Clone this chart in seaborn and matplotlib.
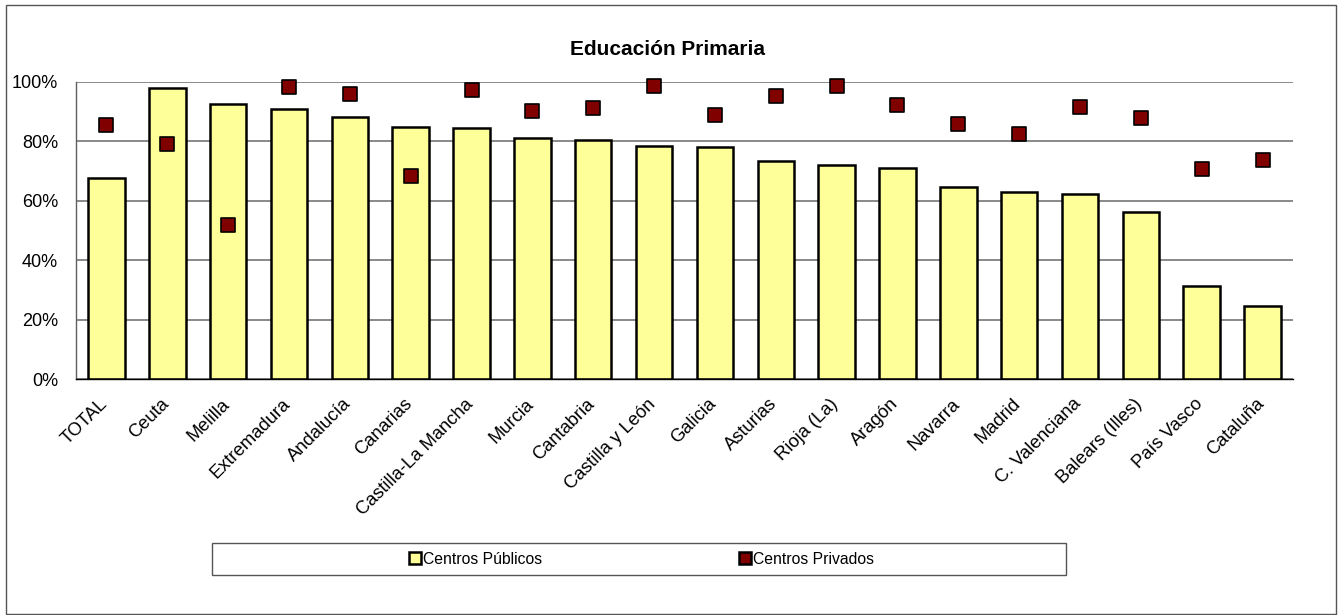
import matplotlib
matplotlib.use("Agg")
import matplotlib.pyplot as plt
import seaborn as sns
import pandas as pd
import numpy as np
from matplotlib.patches import Patch, Rectangle
from matplotlib.ticker import PercentFormatter, FixedLocator
from matplotlib.transforms import ScaledTranslation

regions = ["TOTAL", "Ceuta", "Melilla", "Extremadura", "Andalucía", "Canarias",
           "Castilla-La Mancha", "Murcia", "Cantabria", "Castilla y León", "Galicia",
           "Asturias", "Rioja (La)", "Aragón", "Navarra", "Madrid", "C. Valenciana",
           "Balears (Illes)", "País Vasco", "Cataluña"]
publicos = [67.6, 98.0, 92.5, 90.9, 88.3, 84.9, 84.5, 81.1, 80.6, 78.6, 78.0,
            73.5, 72.2, 71.0, 64.5, 62.8, 62.3, 56.2, 31.2, 24.5]
privados = [85.4, 79.2, 51.8, 98.2, 96.1, 68.2, 97.2, 90.3, 91.2, 98.8, 89.0,
            95.4, 98.5, 92.3, 86.0, 82.6, 91.6, 87.9, 70.8, 73.8]
series_labels = ["Centros Públicos", "Centros Privados"]
title = "Educación Primaria"

sns.set_theme(style="white")
plt.rcParams["font.family"] = ["Liberation Sans", "DejaVu Sans"]
plt.rcParams["text.color"] = "black"
plt.rcParams["xtick.color"] = "black"
plt.rcParams["ytick.color"] = "black"
plt.rcParams["xtick.labelcolor"] = "black"
plt.rcParams["ytick.labelcolor"] = "black"

W, H = 1338, 615
fig = plt.figure(figsize=(W / 100, H / 100), dpi=100)
fig.patch.set_facecolor("white")
ax = fig.add_axes([76 / W, 1 - 379 / H, (1293 - 76) / W, (379 - 82) / H])

df = pd.DataFrame({"Región": regions, "pub": publicos, "priv": privados})

sns.barplot(data=df, x="Región", y="pub", color="#FFFF99", saturation=1,
            width=0.6, edgecolor="black", linewidth=1.8, ax=ax, zorder=2)
sns.scatterplot(data=df, x="Región", y="priv", marker="s", s=95,
                color="#800000", edgecolor="black", linewidth=1.2, ax=ax,
                zorder=3, legend=False, clip_on=False)

ax.set_xlim(-0.5, len(regions) - 0.5)
ax.set_ylim(0, 100)
ax.yaxis.set_major_locator(FixedLocator([0, 20, 40, 60, 80, 100]))
ax.yaxis.set_major_formatter(PercentFormatter(100, decimals=0))
ax.yaxis.grid(True, color="#808080", linewidth=1.3)
ax.set_axisbelow(True)
ax.set_xlabel("")
ax.set_ylabel("")

for s in ["top", "right"]:
    ax.spines[s].set_visible(False)
ax.spines["left"].set_color("#606060")
ax.spines["left"].set_linewidth(1.0)
ax.spines["bottom"].set_color("black")
ax.spines["bottom"].set_linewidth(1.0)

ax.set_xticks(np.arange(-0.5, len(regions), 1), minor=True)
ax.tick_params(axis="x", which="minor", direction="inout", length=8,
               color="#606060", width=1)
ax.tick_params(axis="x", which="major", length=0, pad=18.5, labelsize=13.2)
ax.tick_params(axis="y", which="major", length=0, pad=13, labelsize=13)
offset = ScaledTranslation(2 / 100, 0, fig.dpi_scale_trans)
for lbl in ax.get_xticklabels():
    lbl.set_rotation(45)
    lbl.set_ha("right")
    lbl.set_va("baseline")
    lbl.set_rotation_mode("anchor")
    lbl.set_transform(lbl.get_transform() + offset)

fig.text(668 / W, 1 - 55 / H, title, ha="center", va="baseline",
         fontsize=15, fontweight="bold")

# legend box
fig.add_artist(Rectangle((212 / W, 1 - 575 / H), (1066 - 212) / W, 32 / H,
                         transform=fig.transFigure, fill=False,
                         edgecolor="#555555", linewidth=1))
handles = [Patch(facecolor="#FFFF99", edgecolor="black", linewidth=1.8),
           Patch(facecolor="#800000", edgecolor="black", linewidth=1.8)]
fig.legend(handles, series_labels, loc="center",
           bbox_to_anchor=(641.5 / W, 1 - 559 / H), ncol=2, frameon=False,
           fontsize=11.3, handlelength=0.75, handleheight=0.75,
           handletextpad=0.15, columnspacing=12.55)

# outer border
fig.add_artist(Rectangle((6 / W, 1 / H), (1336 - 6) / W, (610 - 1) / H,
                         transform=fig.transFigure, fill=False,
                         edgecolor="#555555", linewidth=1))

fig.savefig("out.png", dpi=100)
